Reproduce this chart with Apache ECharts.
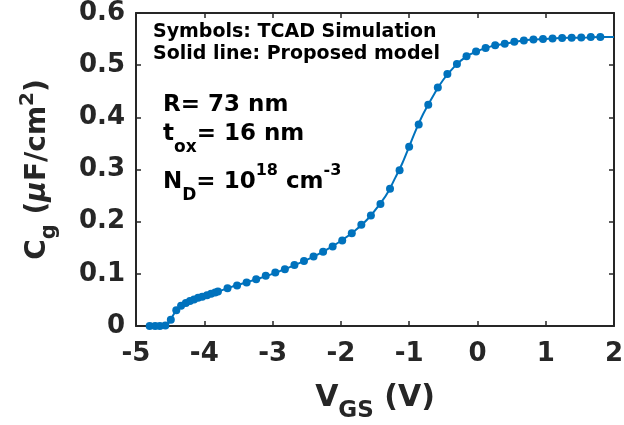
<!DOCTYPE html>
<html><head><meta charset="utf-8">
<script src="https://cdn.jsdelivr.net/npm/echarts@6/dist/echarts.min.js"></script>
<style>html,body{margin:0;padding:0;background:#fff}#c{width:624px;height:425px}</style>
</head><body><div id="c"></div>
<script>
// TCAD simulation symbols
const tcadVgs = [-4.80,-4.72,-4.65,-4.57,-4.49,-4.41,-4.34,-4.27,-4.21,-4.15,-4.09,-4.03,-3.96,-3.90,-3.84,-3.80,
  -3.66,-3.52,-3.38,-3.24,-3.10,-2.96,-2.82,-2.68,-2.54,-2.40,-2.26,-2.12,-1.98,-1.84,-1.70,-1.56,-1.42,-1.28,
  -1.14,-1.00,-0.86,-0.72,-0.58,-0.44,-0.30,-0.16,-0.02,0.12,0.26,0.40,0.54,0.68,0.82,0.96,1.10,1.24,1.38,1.52,1.66,1.80];
const tcadCg = [0,0,0,0.001,0.012,0.030,0.039,0.044,0.048,0.051,0.054,0.056,0.059,0.062,0.064,0.066,
  0.0725,0.0775,0.0833,0.0897,0.0962,0.1025,0.109,0.1167,0.1244,0.1333,0.1423,0.1525,0.164,0.178,0.194,0.212,0.234,0.263,
  0.2987,0.3437,0.3865,0.424,0.457,0.483,0.502,0.517,0.526,0.533,0.538,0.541,0.545,0.5475,0.549,0.550,0.551,0.552,0.5525,0.553,0.554,0.554];
// Proposed model (solid line)
const modelVgs = [-4.82,-4.57,-4.52,-4.45,-4.38,-4.30,-4.20,-4.10,-4.00,-3.80,-3.60,-3.40,-3.20,-3.00,-2.80,-2.60,-2.40,-2.20,-2.00,
  -1.80,-1.60,-1.40,-1.30,-1.20,-1.10,-1.00,-0.90,-0.80,-0.70,-0.60,-0.50,-0.40,-0.30,-0.20,-0.10,0.00,0.20,0.40,0.60,0.80,1.00,1.20,1.40,1.60,1.80,2.00];
const modelCg = [0,0.001,0.006,0.022,0.034,0.042,0.048,0.053,0.057,0.066,0.075,0.083,0.091,0.100,0.110,0.121,0.133,0.147,0.163,
  0.182,0.206,0.239,0.259,0.285,0.312,0.344,0.376,0.405,0.429,0.452,0.472,0.488,0.502,0.513,0.521,0.527,0.536,0.541,0.546,0.549,0.550,0.552,0.5525,0.553,0.554,0.554];
const xTicks = [-5,-4,-3,-2,-1,0,1,2];
const yTicks = [0,0.1,0.2,0.3,0.4,0.5,0.6];

const FF = 'DejaVu Sans';
const AX = '#262626';
const BLUE = '#0072BD';
function tok(size, extra) { return Object.assign({fontFamily: FF, fontWeight: 'bold', fontSize: size, color: AX}, extra || {}); }

const chart = echarts.init(document.getElementById('c'), null, {renderer: 'canvas'});
const axisCommon = {
  type: 'value', splitLine: {show: false},
  axisLine: {show: true, onZero: false, lineStyle: {color: AX, width: 2}},
  axisTick: {show: true, inside: true, length: 5, lineStyle: {color: AX, width: 1.5}}
};
chart.setOption({
  animation: false,
  backgroundColor: '#fff',
  grid: {left: 136, right: 10, top: 13, bottom: 99, containLabel: false, outerBoundsMode: 'none'},
  xAxis: [
    Object.assign({}, axisCommon, {
      position: 'bottom', min: xTicks[0], max: xTicks[xTicks.length - 1], interval: 1,
      axisLabel: {show: true, margin: 15, fontFamily: FF, fontWeight: 'bold', fontSize: 26, color: AX,
        formatter: v => String(v)},
      name: '{m|V}{sub|GS}{m| (V)}', nameLocation: 'middle', nameGap: 48,
      nameTextStyle: {rich: {m: tok(30), sub: tok(23, {padding: [26, 0, 0, 0]})}}
    }),
    Object.assign({}, axisCommon, {
      position: 'top', min: xTicks[0], max: xTicks[xTicks.length - 1], interval: 1,
      axisLabel: {show: false}
    })
  ],
  yAxis: [
    Object.assign({}, axisCommon, {
      position: 'left', min: yTicks[0], max: yTicks[yTicks.length - 1], interval: 0.1,
      axisLabel: {show: true, margin: 11, fontFamily: FF, fontWeight: 'bold', fontSize: 26, color: AX,
        formatter: v => String(Math.round(v * 10) / 10)},
      name: '{m|C}{sub|g}{m| (}{mu|μ}{m|F/cm}{sup|2}{m|)}', nameLocation: 'middle', nameRotate: 90, nameGap: 76,
      nameTextStyle: {rich: {
        m: tok(28), mu: tok(28, {fontStyle: 'italic'}),
        sub: tok(21, {padding: [24, 0, 0, 0]}), sup: tok(20, {padding: [0, 0, 20, 0]})
      }}
    }),
    Object.assign({}, axisCommon, {
      position: 'right', min: yTicks[0], max: yTicks[yTicks.length - 1], interval: 0.1,
      axisLabel: {show: false}
    })
  ],
  graphic: [
    {type: 'text', x: 153, y: 32, z: 100, style: {text: 'Symbols: TCAD Simulation', fontFamily: FF, fontWeight: 'bold', fontSize: 19, fill: '#000', verticalAlign: 'middle', align: 'left'}},
    {type: 'text', x: 153, y: 54, z: 100, style: {text: 'Solid line: Proposed model', fontFamily: FF, fontWeight: 'bold', fontSize: 19, fill: '#000', verticalAlign: 'middle', align: 'left'}},
    {type: 'text', x: 163, y: 105, z: 100, style: {text: 'R= 73 nm', fontFamily: FF, fontWeight: 'bold', fontSize: 23, fill: '#000', verticalAlign: 'middle', align: 'left'}},
    {type: 'text', x: 163, y: 134, z: 100, style: {text: '{m|t}{sub|ox}{m|= 16 nm}', fontFamily: FF, fontWeight: 'bold', fontSize: 23, fill: '#000', verticalAlign: 'middle', align: 'left',
      rich: {m: {fontFamily: FF, fontWeight: 'bold', fontSize: 23, fill: '#000'}, sub: {fontFamily: FF, fontWeight: 'bold', fontSize: 17, fill: '#000', padding: [28, 0, 0, 0]}}}},
    {type: 'text', x: 163, y: 182, z: 100, style: {text: '{m|N}{sub|D}{m|= 10}{sup|18}{m| cm}{sup|-3}', fontFamily: FF, fontWeight: 'bold', fontSize: 23, fill: '#000', verticalAlign: 'middle', align: 'left',
      rich: {m: {fontFamily: FF, fontWeight: 'bold', fontSize: 23, fill: '#000'},
        sub: {fontFamily: FF, fontWeight: 'bold', fontSize: 17, fill: '#000', padding: [28, 0, 0, 0]},
        sup: {fontFamily: FF, fontWeight: 'bold', fontSize: 16, fill: '#000', padding: [0, 0, 22, 0]}}}}
  ],
  series: [
    {type: 'line', name: 'Proposed model', xAxisIndex: 0, yAxisIndex: 0,
      data: modelVgs.map((v, i) => [v, modelCg[i]]),
      showSymbol: false, smooth: 0.3, lineStyle: {color: BLUE, width: 2}, z: 2},
    {type: 'scatter', name: 'TCAD Simulation', xAxisIndex: 0, yAxisIndex: 0,
      data: tcadVgs.map((v, i) => [v, tcadCg[i]]),
      symbol: 'circle', symbolSize: 8, itemStyle: {color: BLUE, opacity: 1}, z: 3}
  ]
});
</script></body></html>
